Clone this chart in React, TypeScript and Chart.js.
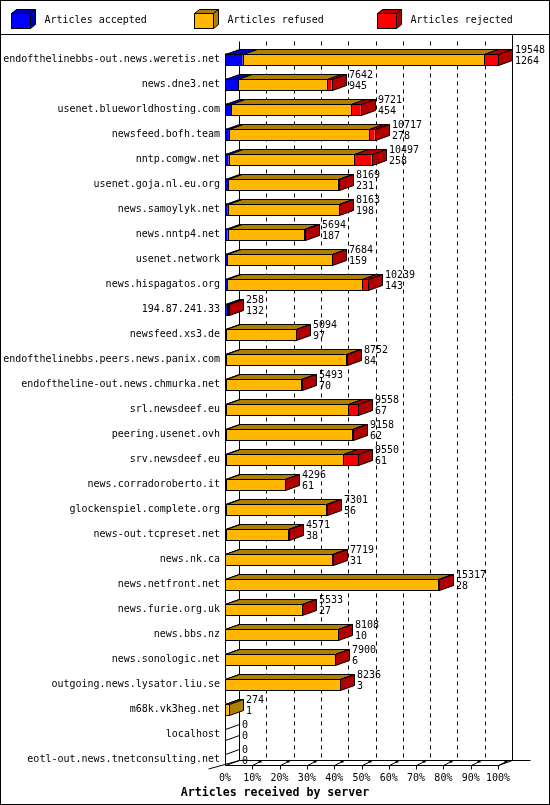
import { useEffect, useRef } from 'react';
import { Chart, registerables } from 'chart.js';

Chart.register(...registerables);

// ---------- data ----------
const servers = [
  'endofthelinebbs-out.news.weretis.net',
  'news.dne3.net',
  'usenet.blueworldhosting.com',
  'newsfeed.bofh.team',
  'nntp.comgw.net',
  'usenet.goja.nl.eu.org',
  'news.samoylyk.net',
  'news.nntp4.net',
  'usenet.network',
  'news.hispagatos.org',
  '194.87.241.33',
  'newsfeed.xs3.de',
  'endofthelinebbs.peers.news.panix.com',
  'endoftheline-out.news.chmurka.net',
  'srl.newsdeef.eu',
  'peering.usenet.ovh',
  'srv.newsdeef.eu',
  'news.corradoroberto.it',
  'glockenspiel.complete.org',
  'news-out.tcpreset.net',
  'news.nk.ca',
  'news.netfront.net',
  'news.furie.org.uk',
  'news.bbs.nz',
  'news.sonologic.net',
  'outgoing.news.lysator.liu.se',
  'm68k.vk3heg.net',
  'localhost',
  'eotl-out.news.tnetconsulting.net',
];

const offered = [
  19548, 7642, 9721, 10717, 10497, 8169, 8163, 5694, 7684, 10239,
  258, 5094, 8752, 5493, 9558, 9158, 9550, 4296, 7301, 4571,
  7719, 15317, 5533, 8108, 7900, 8236, 274, 0, 0,
];

const accepted = [
  1264, 945, 454, 278, 258, 231, 198, 187, 159, 143,
  132, 97, 84, 70, 67, 62, 61, 61, 56, 38,
  31, 28, 27, 10, 6, 3, 1, 0, 0,
];

// (not printed in the reference)
const rejected = [
  980, 360, 720, 400, 1240, 100, 30, 20, 20, 430,
  10, 10, 60, 20, 740, 80, 1075, 30, 50, 40,
  40, 50, 30, 20, 20, 20, 0, 0, 0,
];

const seriesLabels = ['Articles accepted', 'Articles refused', 'Articles rejected'];
const frontColors = ['#0000FF', '#FFB700', '#FF0000'];
const darkColors = ['#0000B0', '#B07E00', '#B00000'];
const tickPercents = [0, 10, 20, 30, 40, 50, 60, 70, 80, 90, 100];
const axisTitle = 'Articles received by server';

// ---------- derived ----------
const refused = offered.map((t, i) => Math.max(t - accepted[i] - rejected[i], 0));
const maxOffered = Math.max(...offered);

const MONO = '"DejaVu Sans Mono", "Liberation Mono", monospace';
const DX = 14;
const DY = 5;

function poly(ctx: CanvasRenderingContext2D, pts: number[][], fill: string) {
  ctx.beginPath();
  ctx.moveTo(pts[0][0], pts[0][1]);
  for (let k = 1; k < pts.length; k++) ctx.lineTo(pts[k][0], pts[k][1]);
  ctx.closePath();
  ctx.fillStyle = fill;
  ctx.fill();
  ctx.strokeStyle = '#000';
  ctx.lineWidth = 1;
  ctx.stroke();
}

function line(ctx: CanvasRenderingContext2D, x1: number, y1: number, x2: number, y2: number) {
  ctx.beginPath();
  ctx.moveTo(x1, y1);
  ctx.lineTo(x2, y2);
  ctx.stroke();
}

const frame3d = {
  id: 'frame3d',
  beforeDraw(chart: any) {
    const ctx = chart.ctx as CanvasRenderingContext2D;
    ctx.save();
    ctx.fillStyle = '#fff';
    ctx.fillRect(0, 0, chart.width, chart.height);
    ctx.restore();
  },
  beforeDatasetsDraw(chart: any) {
    const ctx = chart.ctx as CanvasRenderingContext2D;
    const xs = chart.scales.x;
    const area = chart.chartArea;
    const meta = chart.getDatasetMeta(0);
    const first = meta.data[0];
    const last = meta.data[meta.data.length - 1];
    const yFloorF = Math.round(last.y + last.height / 2) - 0.5;
    const yFloorB = yFloorF - DY;
    const yBackTop = Math.round(area.top) - 6 + 0.5;
    const yFirstTop = Math.round(first.y - first.height / 2) + 0.5;
    const px = (p: number) => Math.round(xs.getPixelForValue((maxOffered * p) / 100)) + 0.5;

    ctx.save();
    ctx.strokeStyle = '#000';
    ctx.lineWidth = 1;
    // back wall lines
    tickPercents.forEach((p) => {
      const xb = px(p) + DX;
      if (p === 0) {
        ctx.setLineDash([]);
        line(ctx, xb, yBackTop, xb, yFloorB);
      } else if (p === 100) {
        ctx.setLineDash([]);
        line(ctx, xb, 35, xb, yFloorB);
      } else {
        ctx.setLineDash([4, 4]);
        line(ctx, xb, yBackTop, xb, yFloorB);
      }
    });
    ctx.setLineDash([]);
    const x0 = px(0);
    const x100 = px(100);
    // front axis
    line(ctx, x0, yFirstTop, x0, yFloorF);
    // floor
    line(ctx, x0 + DX, yFloorB, x100 + DX + 18, yFloorB);
    line(ctx, x0, yFloorF, x100, yFloorF);
    line(ctx, x100, yFloorF, x100 + DX, yFloorB);
    line(ctx, x0 + DX, yFloorB, x0 - 17, yFloorF + 3.5);
    // floor ticks
    tickPercents.forEach((p) => {
      if (p === 0) return;
      const xf = px(p);
      line(ctx, xf, yFloorF, xf, yFloorF + 4);
      line(ctx, xf, yFloorF, xf + 9, yFloorB + 0.5);
      ctx.fillStyle = '#000';
      ctx.fillRect(xf + 6, yFloorB, 3, 2);
    });
    ctx.restore();
  },
  afterDatasetsDraw(chart: any) {
    const ctx = chart.ctx as CanvasRenderingContext2D;
    const xs = chart.scales.x;
    const metas = [0, 1, 2].map((i) => chart.getDatasetMeta(i));
    const x0 = Math.round(xs.getPixelForValue(0)) + 0.5;
    ctx.save();
    ctx.lineWidth = 1;
    ctx.strokeStyle = '#000';
    for (let j = 0; j < servers.length; j++) {
      const ref = metas[0].data[j];
      const T = Math.round(ref.y - ref.height / 2) + 0.5;
      const B = Math.round(ref.y + ref.height / 2) - 0.5;
      let lastIdx = -1;
      let endX = x0;
      for (let i = 0; i < 3; i++) {
        const v = chart.data.datasets[i].data[j] as number;
        if (!(v > 0)) continue;
        const el = metas[i].data[j];
        const a = Math.round(el.base) + 0.5;
        const b = Math.round(el.x) + 0.5;
        ctx.strokeStyle = '#000';
        ctx.strokeRect(a, T, b - a, B - T);
        poly(ctx, [[a, T], [b, T], [b + DX, T - DY], [a + DX, T - DY]], darkColors[i]);
        lastIdx = i;
        endX = b;
      }
      if (lastIdx >= 0) {
        poly(ctx, [[endX, T], [endX + DX, T - DY], [endX + DX, B - DY], [endX, B]], darkColors[lastIdx]);
      } else {
        ctx.strokeStyle = '#000';
        line(ctx, x0, T, x0 + DX, T - DY);
        line(ctx, x0, B, x0 + DX, B - DY);
      }
      ctx.fillStyle = '#000';
      ctx.font = `10px ${MONO}`;
      ctx.textAlign = 'left';
      ctx.textBaseline = 'middle';
      const tx = endX + DX + 2.5;
      ctx.fillText(String(offered[j]), tx, ref.y - 9.5);
      ctx.fillText(String(accepted[j]), tx, ref.y + 2);
    }
    ctx.restore();
  },
  afterDraw(chart: any) {
    const ctx = chart.ctx as CanvasRenderingContext2D;
    ctx.save();
    ctx.strokeStyle = '#000';
    ctx.lineWidth = 1;
    ctx.strokeRect(0.5, 0.5, chart.width - 1, chart.height - 1);
    line(ctx, 0, 34.5, chart.width, 34.5);
    chart.data.datasets.forEach((ds: any, i: number) => {
      const L = 11.5 + 183 * i;
      const R = L + 19;
      const T = 13.5;
      const B = 28.5;
      ctx.fillStyle = frontColors[i];
      ctx.fillRect(L, T, R - L, B - T);
      ctx.strokeRect(L, T, R - L, B - T);
      poly(ctx, [[L, T], [R, T], [R + 5, T - 4], [L + 5, T - 4]], darkColors[i]);
      poly(ctx, [[R, T], [R + 5, T - 4], [R + 5, B - 4], [R, B]], darkColors[i]);
      ctx.fillStyle = '#000';
      ctx.font = `10px ${MONO}`;
      ctx.textAlign = 'left';
      ctx.textBaseline = 'middle';
      ctx.fillText(ds.label, L + 33, 20.5);
    });
    ctx.restore();
  },
};

export default function App() {
  const ref = useRef<HTMLCanvasElement | null>(null);
  useEffect(() => {
    document.body.style.margin = '0';
    const canvas = ref.current;
    if (!canvas) return;
    const datasets = [accepted, refused, rejected].map((d, i) => ({
      label: seriesLabels[i],
      data: d,
      backgroundColor: frontColors[i],
      borderWidth: 0,
      barThickness: 12,
      inflateAmount: 0,
    }));
    const chart = new Chart(canvas, {
      type: 'bar',
      data: { labels: servers, datasets },
      plugins: [frame3d],
      options: {
        indexAxis: 'y',
        animation: false,
        responsive: false,
        maintainAspectRatio: false,
        devicePixelRatio: 1,
        layout: { padding: { top: 47, left: 0, right: 0, bottom: 0 } },
        plugins: {
          legend: { display: false },
          tooltip: { enabled: false },
          title: {
            display: true,
            position: 'bottom',
            text: axisTitle,
            color: '#000',
            font: { family: MONO, size: 11.6, weight: 'bold' },
            padding: { top: 0, bottom: 5 },
          },
        },
        scales: {
          x: {
            type: 'linear',
            stacked: true,
            min: 0,
            max: maxOffered,
            grid: { display: false, drawTicks: false, tickLength: 0 },
            border: { display: false },
            afterBuildTicks: (scale: any) => {
              scale.ticks = tickPercents.map((p) => ({ value: (maxOffered * p) / 100 }));
            },
            afterFit: (scale: any) => {
              scale.height = 14;
            },
            ticks: {
              autoSkip: false,
              maxRotation: 0,
              padding: 0,
              color: '#000',
              font: { family: MONO, size: 10 },
              callback: (v: any) => `${Math.round((Number(v) / maxOffered) * 100)}%`,
            },
          },
          y: {
            type: 'category',
            stacked: true,
            grid: { display: false, drawTicks: false, tickLength: 0 },
            border: { display: false },
            afterFit: (scale: any) => {
              scale.width = 225;
            },
            ticks: {
              autoSkip: false,
              padding: 5,
              color: '#000',
              font: { family: MONO, size: 10 },
            },
          },
          yRight: {
            type: 'linear',
            position: 'right',
            display: true,
            grid: { display: false, drawTicks: false, tickLength: 0 },
            border: { display: false },
            ticks: { display: false },
            afterFit: (scale: any) => {
              scale.width = 52;
            },
          },
        },
      } as any,
    });
    return () => chart.destroy();
  }, []);
  return (
    <canvas
      ref={ref}
      width={550}
      height={805}
      style={{ display: 'block', position: 'absolute', left: 0, top: 0 }}
    />
  );
}
